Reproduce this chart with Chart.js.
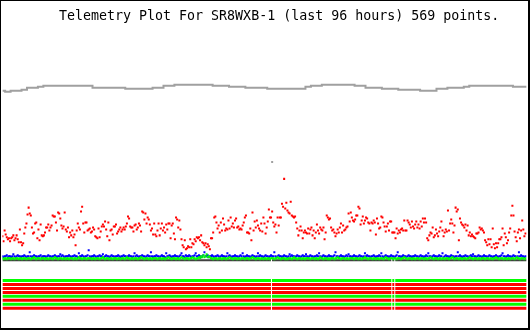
<!DOCTYPE html>
<html>
<head>
<meta charset="utf-8">
<script src="https://cdn.jsdelivr.net/npm/chart.js@4.4.1/dist/chart.umd.min.js"></script>
<style>
html, body { margin: 0; padding: 0; background: #fff; }
#frame {
  position: relative;
  width: 530px;
  height: 330px;
  box-sizing: border-box;
  border-style: solid;
  border-color: #000;
  border-width: 1px 2px 2px 1px;
  background: #fff;
}
#plot { display: block; }
#title {
  position: absolute;
  left: 58px;
  top: 7px;
  font-family: "DejaVu Sans Mono", monospace;
  font-size: 13.3px;
  line-height: 16px;
  color: #000;
  white-space: pre;
}
</style>
</head>
<body>
<div id="frame">
  <canvas id="plot" width="527" height="327"></canvas>
  <div id="title">Telemetry Plot For SR8WXB-1 (last 96 hours) 569 points.</div>
</div>
<script>
'use strict';

// TIME GRID (hours, one sample every 12 minutes)
var STEP = 0.2;
var SAMPLES = 480;
var HOURS = 96;

// RECEIVED RUNS (hours) - telemetry missing between them
var runStart = [0, 49.37, 71.41, 71.95];
var runEnd = [49.18, 71.23, 71.77, 96];

// CHANNEL 1 (red)
var red = [
  24,19,30,26,23,21,22,19,22,23, 25,20,22,25,21,18,31,18,15,17,
  27,33,37,46,53,47,45,33,27,28, 37,38,22,31,20,36,25,24,25,28,
  33,33,36,30,33,35,45,44,44,38, 30,48,47,42,35,32,34,48,31,29,
  33,23,28,25,30,23,26,15,30,37, 33,31,49,54,37,28,38,38,30,31,
  32,28,29,33,31,24,23,22,32,23, 29,34,36,34,39,31,24,38,20,30,
  31,26,34,34,36,27,29,31,33,29, 31,33,31,34,37,44,42,34,33,33,
  29,35,36,31,33,37,35,29,49,48, 41,47,37,43,41,36,30,32,26,37,
  26,24,30,37,25,32,37,30,33,28, 36,31,37,37,22,35,37,27,21,43,
  41,33,40,31,21,15,13,20,11,12, 14,13,21,13,17,16,21,19,23,22,
  23,20,25,18,17,15,17,13,16,14, 11,22,22,28,43,44,38,32,35,28,
  38,30,42,36,30,32,31,40,32,43, 34,37,33,40,42,33,34,31,32,31,
  35,38,43,45,28,28,27,32,20,48, 30,39,33,40,35,32,30,37,29,43,
  37,27,33,39,51,43,43,49,38,34, 36,28,43,35,43,43,57,54,82,52,
  58,50,48,47,59,45,44,43,44,38, 32,25,30,34,30,22,28,30,28,27,
  32,27,31,33,25,30,22,28,36,30, 27,33,31,30,33,21,28,45,43,41,
  42,33,30,31,28,24,27,31,28,33, 37,28,35,30,31,33,34,47,39,48,
  43,40,39,41,45,45,54,52,36,40, 44,37,40,43,42,38,37,30,38,37,
  40,38,26,42,37,32,33,44,43,38, 34,29,34,37,30,39,39,28,28,28,
  22,32,27,30,28,31,32,30,40,30, 30,40,38,36,33,39,34,32,36,39,
  33,36,32,39,34,42,38,42,38,22, 20,25,28,27,33,23,25,31,27,24,
  29,33,39,30,24,28,31,29,50,30, 37,41,37,28,35,53,49,51,20,42,
  38,36,35,33,36,30,35,25,28,24, 26,24,23,22,27,27,28,33,31,32,
  30,28,20,18,15,21,16,21,13,32, 16,12,17,13,17,21,21,23,32,15,
  27,23,17,20,28,32,45,55,45,29, 23,19,28,31,22,30,40,31,24,27
];

// CHANNEL 2 (blue)
var blue = [
  4,3,4,4,5,3,4,4,3,4,6,4,3,4,5,4,4,3,4,4,
  5,4,3,4,4,8,4,3,4,5,4,4,3,4,4,5,3,4,4,4,
  3,4,5,4,4,3,4,4,5,4,3,4,4,6,4,5,4,3,4,4,
  4,5,4,3,4,4,5,4,4,3,7,4,4,5,4,3,4,4,5,10,
  4,3,4,4,5,4,3,4,4,5,4,4,6,3,4,5,4,4,3,4,
  5,4,4,3,4,4,5,4,3,4,4,5,4,4,3,4,5,4,4,3,
  4,7,4,5,4,3,4,4,5,4,4,3,4,5,4,4,8,4,3,4,
  4,5,4,4,3,4,5,4,4,3,7,4,4,5,4,3,4,4,5,4,
  4,3,4,5,7,4,4,3,5,4,4,5,4,3,4,4,5,7,4,4,
  5,4,3,4,5,8,4,4,5,3,4,4,5,4,3,4,4,5,4,3,
  4,5,4,4,3,4,7,4,5,4,3,4,4,5,4,4,3,4,5,4,
  7,4,3,4,5,4,4,3,4,5,4,4,3,4,7,4,5,4,4,3,
  4,5,4,4,3,4,5,4,4,8,4,3,4,5,4,4,3,4,5,4,
  4,3,4,6,4,5,4,4,3,4,5,4,4,3,4,5,4,4,6,4,
  3,4,5,4,4,3,4,4,5,4,7,4,3,4,5,4,4,3,4,5,
  4,4,3,4,5,8,4,4,3,4,5,4,4,3,4,5,4,6,4,4,
  3,4,5,4,4,3,4,5,4,4,3,4,7,4,5,4,4,3,4,4,
  5,4,3,4,4,5,4,7,4,3,4,5,4,4,3,4,5,4,4,3,
  4,5,8,4,4,3,4,5,4,4,3,4,5,4,4,3,4,4,5,4,
  4,3,4,5,4,4,3,4,5,4,7,4,4,3,4,5,4,4,3,4,
  5,4,4,7,3,4,5,4,4,3,4,5,4,4,3,4,4,8,4,5,
  4,3,4,4,5,4,4,3,4,5,4,6,4,4,3,4,5,4,4,3,
  4,5,4,4,3,4,5,4,4,3,4,4,5,4,3,4,4,5,7,4,
  4,3,4,5,4,4,3,4,5,4,4,3,4,8,4,5,4,4,3,4
];

// CHANNEL 3 (green)
var green = [
  2,1,2,2,1,2,2,2,1,2,2,1,2,2,2,1,2,2,1,2,
  2,2,1,2,2,2,1,2,2,3,2,1,2,2,2,1,2,2,2,1,
  2,2,1,2,2,2,1,2,3,2,2,1,2,2,2,1,2,2,1,2,
  2,1,2,2,2,1,2,2,1,2,3,2,2,1,2,2,2,1,2,2,
  2,2,1,2,2,1,2,2,2,1,2,2,3,2,1,2,2,2,1,2,
  2,1,2,2,2,1,2,2,1,2,2,2,1,2,3,2,2,1,2,2,
  1,2,2,2,1,2,2,3,2,2,1,2,2,2,1,2,2,1,2,2,
  2,2,1,2,2,2,1,2,2,1,2,2,3,2,2,1,2,2,2,1,
  2,2,1,2,3,2,2,1,2,2,2,1,2,2,3,2,2,1,2,2,
  3,2,4,3,5,3,4,6,3,4,3,2,2,1,2,2,2,1,2,2,
  2,1,2,2,2,1,2,2,3,2,2,1,2,2,2,1,2,2,1,2,
  2,2,1,2,2,2,1,2,2,3,2,2,1,2,2,2,1,2,2,1,
  2,2,1,2,2,1,2,2,2,1,2,2,3,2,2,1,2,2,2,1,
  2,1,2,2,2,1,2,3,2,2,1,2,2,2,1,2,2,1,2,2,
  2,2,1,2,2,2,1,2,2,1,2,3,2,2,1,2,2,2,1,2,
  1,2,2,2,1,2,2,3,2,2,1,2,2,2,1,2,2,1,2,2,
  2,2,1,2,2,2,1,2,2,1,2,2,3,2,2,1,2,2,2,1,
  2,2,1,2,2,1,2,2,2,1,2,3,2,2,1,2,2,2,1,2,
  2,1,2,2,2,1,2,2,3,2,2,1,2,2,2,1,2,2,1,2,
  2,2,1,2,2,2,1,2,2,1,2,2,3,2,2,1,2,2,2,1,
  2,2,1,2,2,1,2,2,2,1,2,2,3,2,1,2,2,2,1,2,
  2,1,2,2,2,1,2,2,3,2,2,1,2,2,2,1,2,2,1,2,
  2,2,1,2,2,2,1,2,2,1,2,2,3,2,2,1,2,2,2,1,
  2,2,1,2,2,1,2,2,2,1,2,3,2,2,1,2,2,2,1,2
];

// CHANNEL 4 (gray), hourly
var gray = [
  171,170,171,171,172,174,174,175,
  176,176,176,176,176,176,176,176,176,
  174,174,174,174,174,174,
  173,173,173,173,173,
  174,174,176,176,177,
  177,177,177,177,177,177,
  176,176,176,175,175,175,174,174,174,174,
  173,173,173,173,173,173,173,
  175,176,176,
  177,177,177,177,177,177,
  176,176,174,174,174,173,173,173,
  172,172,172,172,171,171,171,
  173,173,174,174,174,175,
  176,176,176,176,176,176,176,176,
  175,175,175
];
var grayGlitchHour = [49.4];
var grayGlitchValue = [99];

// CHANNEL 5 (dark gray) sits at zero
var baseValue = 0;

// BITS (1 = on / green, 0 = off / red)
var bits = [1, 0, 0, 0, 1, 0, 1, 0];

// BUILD POINTS
function gridPoints(values) {
  return values.map(function (v, i) {
    return { x: i * STEP, y: v };
  });
}

function runPoints(level) {
  var pts = [];
  for (var i = 0; i < runStart.length; i++) {
    if (i > 0) pts.push({ x: runStart[i], y: null });
    pts.push({ x: runStart[i], y: level });
    pts.push({ x: runEnd[i], y: level });
  }
  return pts;
}

var dotStyle = {
  type: 'line',
  showLine: false,
  pointStyle: 'rect',
  pointRadius: 1.42,
  pointBorderWidth: 0,
  pointHoverRadius: 1.42
};

var datasets = [];

// red on top
datasets.push(Object.assign({}, dotStyle, {
  label: 'red',
  data: gridPoints(red),
  pointBackgroundColor: '#ff0000'
}));
datasets.push(Object.assign({}, dotStyle, {
  label: 'green',
  data: gridPoints(green),
  pointBackgroundColor: '#00ff00'
}));
datasets.push(Object.assign({}, dotStyle, {
  label: 'blue',
  data: gridPoints(blue),
  pointBackgroundColor: '#0000ff'
}));
datasets.push(Object.assign({}, dotStyle, {
  label: 'gray glitch',
  data: grayGlitchHour.map(function (h, i) { return { x: h, y: grayGlitchValue[i] }; }),
  pointBackgroundColor: '#a0a0a0'
}));
datasets.push({
  type: 'line',
  label: 'gray',
  data: gray.map(function (v, h) { return { x: h, y: v }; }),
  borderColor: '#a0a0a0',
  borderWidth: 2,
  stepped: 'middle',
  pointRadius: 0
});
datasets.push({
  type: 'line',
  label: 'base',
  data: runPoints(baseValue),
  borderColor: '#404040',
  borderWidth: 2,
  pointRadius: 0
});

// bit rows under the plot
bits.forEach(function (b, k) {
  datasets.push({
    type: 'line',
    label: 'bit ' + k,
    data: runPoints(-20.5 - 4 * k),
    borderColor: b ? '#00ff00' : '#ff0000',
    borderWidth: 3,
    borderCapStyle: 'butt',
    pointRadius: 0
  });
});

// WYKRES
var ctx = document.getElementById('plot').getContext('2d');
var chart = new Chart(ctx, {
  type: 'line',
  data: { datasets: datasets },
  options: {
    responsive: false,
    animation: false,
    events: [],
    layout: { padding: 0 },
    plugins: {
      legend: { display: false },
      title: { display: false },
      tooltip: { enabled: false }
    },
    scales: {
      x: { type: 'linear', min: 0, max: HOURS, display: false },
      y: { type: 'linear', min: -67, max: 260, display: false }
    }
  }
});
</script>
</body>
</html>
